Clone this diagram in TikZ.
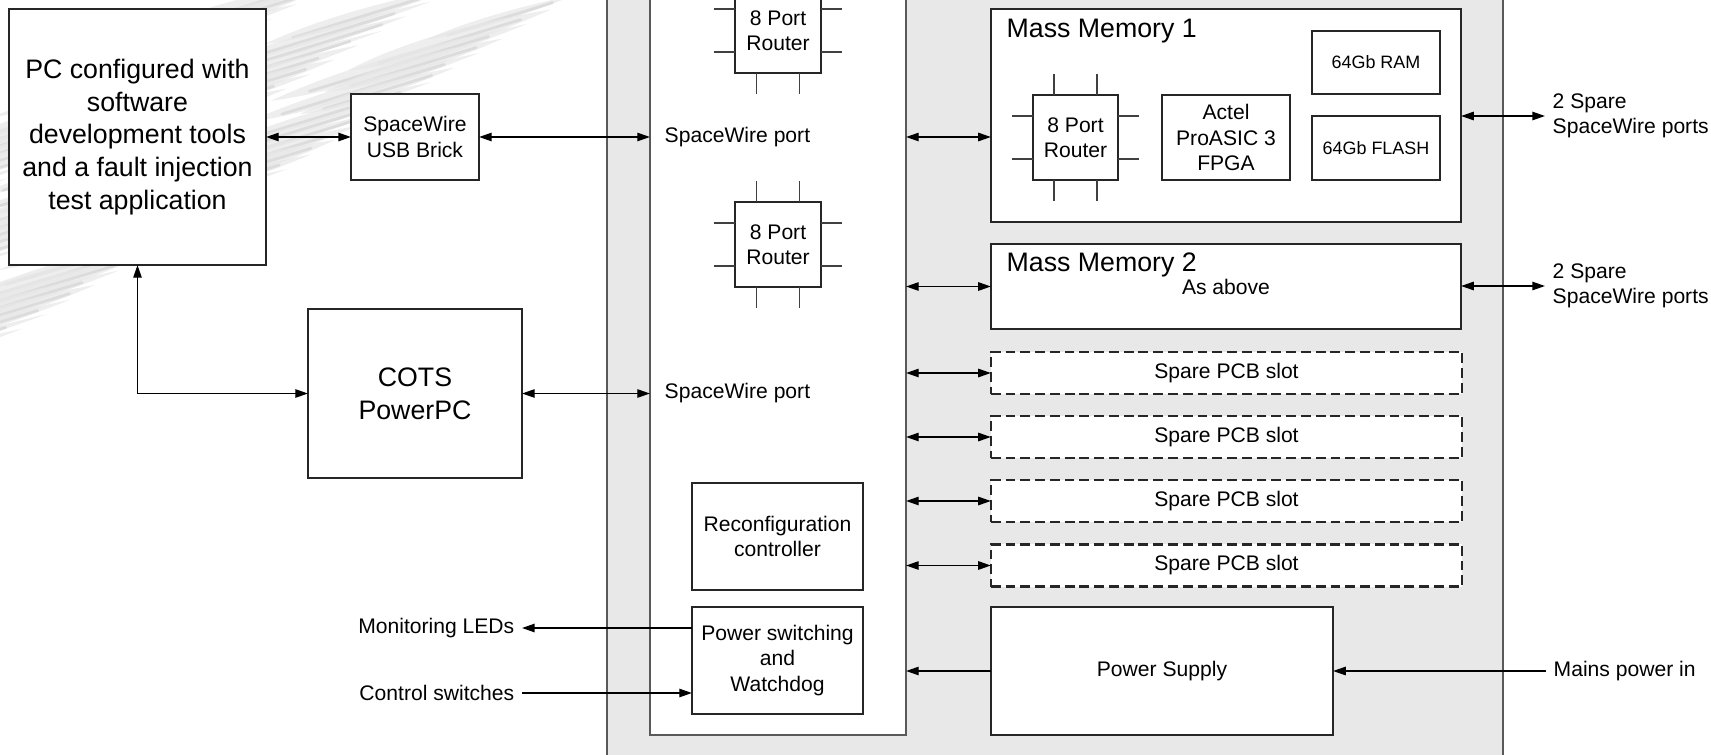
\documentclass[tikz,border=0pt]{standalone}
\usepackage{fontspec}
\setmainfont{Liberation Sans}
\usetikzlibrary{arrows.meta,positioning}

\tikzset{
  frame/.style={draw=black!65, line width=.6pt, inner sep=0pt, outer sep=0pt},
  box/.style={draw=black!85, fill=white, line width=.4pt, inner sep=0pt, outer sep=0pt,
    align=center, font=\fontsize{6}{7.2}\selectfont},
  bigbox/.style={box, font=\fontsize{7.6}{9.3}\selectfont},
  slotbox/.style={box, line width=.65pt, dash pattern=on 2.8pt off 1.4pt},
  lbl/.style={inner sep=2pt, align=left, font=\fontsize{6}{7.2}\selectfont},
  port/.style={draw=black!75, line width=.4pt},
  link/.style={line width=.4pt, {Triangle[length=3.6pt,width=2.4pt]}-{Triangle[length=3.6pt,width=2.4pt]}},
  feed/.style={line width=.4pt, -{Triangle[length=3.6pt,width=2.4pt]}},
  wisp/.style={black!9, opacity=.75},
  quill/.style={black!24, line width=.8pt, line cap=round, opacity=.4},
}

\begin{document}
\begin{tikzpicture}[x=0.01cm,y=-0.01cm]
\useasboundingbox (0,0) rectangle (1711,754);
\clip (0,0) rectangle (1711,754);

% feather wisps in the background, rows of tapered strokes
\foreach \row/\ox/\oy in {0/0/0,1/-120/-8,2/-230/-20} {
  \foreach \t in {0,...,24} {
    \pgfmathsetmacro\tx{575-\t*24+\ox}
    \pgfmathsetmacro\ty{-5+\t*14.5+\oy}
    \pgfmathsetmacro\fl{150+mod(\t*53+\row*41,130)}
    \pgfmathsetmacro\sx{\tx-\fl}
    \pgfmathsetmacro\sy{\ty+0.3*\fl}
    \pgfmathsetmacro\w{7+mod(\t*7+\row*3,8)}
    \fill[wisp] (\sx,\sy) .. controls (\sx+0.3*\fl,\sy-0.09*\fl-\w) and (\sx+0.7*\fl,\sy-0.21*\fl-0.6*\w) .. (\tx,\ty)
      .. controls (\sx+0.7*\fl,\sy-0.21*\fl+0.6*\w) and (\sx+0.3*\fl,\sy-0.09*\fl+\w) .. cycle;
    \draw[quill] (\sx+0.15*\fl,\sy-0.045*\fl+2) .. controls (\sx+0.5*\fl,\sy-0.15*\fl+2) .. (\tx-0.15*\fl,\ty+0.045*\fl+1);
  }
}

% rack and router board
\node[frame, fill=black!9, minimum width=8.96cm, minimum height=8cm] (rack) at (1055,377) {};
\node[frame, fill=white, minimum width=2.56cm, minimum height=7.55cm] (board) at (778,357.5) {};

% ground equipment
\node[bigbox, minimum width=2.57cm, minimum height=2.56cm] (pc) at (137.5,137)
  {PC configured with\\software\\development tools\\and a fault injection\\test application};
\node[box, minimum width=1.28cm, minimum height=.86cm] (usb) at (415,137) {SpaceWire\\USB Brick};
\node[bigbox, minimum width=2.14cm, minimum height=1.69cm] (ppc) at (415,393.5) {COTS\\PowerPC};

% router board contents
\node[box, minimum width=.86cm, minimum height=.85cm] (rtrA) at (778,30.5) {8 Port\\Router};
\node[box, minimum width=.86cm, minimum height=.85cm] (rtrB) at (778,244.5) {8 Port\\Router};
\node[lbl, anchor=west] (swpA) at (657,137) {SpaceWire port};
\node[lbl, anchor=west] (swpB) at (657,393) {SpaceWire port};
\node[box, minimum width=1.71cm, minimum height=1.07cm] (reconf) at (777.5,536.5) {Reconfiguration\\controller};
\node[box, minimum width=1.71cm, minimum height=1.07cm] (pwsw) at (777.5,660.5) {Power switching\\and\\Watchdog};

% mass memory 1
\node[box, minimum width=4.7cm, minimum height=2.13cm] (mm1) at (1226,115.5) {};
\node[anchor=west, inner sep=0pt, font=\fontsize{7.6}{9.3}\selectfont] (mmA) at (1006,31) {Mass Memory 1};
\node[box, minimum width=.85cm, minimum height=.85cm] (rtrC) at (1075.5,137.5) {8 Port\\Router};
\node[box, minimum width=1.28cm, minimum height=.85cm] (actel) at (1226,137.5) {Actel\\ProASIC 3\\FPGA};
\node[box, minimum width=1.28cm, minimum height=.63cm, font=\fontsize{5.1}{6}\selectfont] (ram) at (1376,62.5) {64Gb RAM};
\node[box, minimum width=1.28cm, minimum height=.64cm, font=\fontsize{5.1}{6}\selectfont] (flash) at (1376,148) {64Gb FLASH};

% mass memory 2
\node[box, minimum width=4.7cm, minimum height=.85cm] (mm2) at (1226,286.5) {};
\node[anchor=west, inner sep=0pt, font=\fontsize{7.6}{9.3}\selectfont] (mmB) at (1006,265) {Mass Memory 2};
\node[lbl] (asab) at (1226,287) {As above};

% router ports
\foreach \r in {rtrA,rtrB,rtrC} {
  \foreach \d in {-0.215cm,0.215cm} {
    \draw[port] ([xshift=\d]\r.north) -- ++(0,-21);
    \draw[port] ([xshift=\d]\r.south) -- ++(0,21);
    \draw[port] ([yshift=\d]\r.west) -- ++(-21,0);
    \draw[port] ([yshift=\d]\r.east) -- ++(21,0);
  }
}

% spare slots
\foreach \y [count=\i] in {373,437,501,565.5} {
  \node[slotbox, minimum width=4.71cm, minimum height=.42cm] (s\i) at (1226.5,\y) {Spare PCB slot};
  \draw[link] (s\i.west -| board.east) -- (s\i.west);
}

\node[box, minimum width=3.42cm, minimum height=1.28cm] (psu) at (1162,671) {Power Supply};

% outside labels
\node[lbl, anchor=west] (spA) at (1545,116) {2 Spare\\SpaceWire ports};
\node[lbl, anchor=west] (spB) at (1545,286) {2 Spare\\SpaceWire ports};
\node[lbl, anchor=west] (mains) at (1546,671) {Mains power in};
\node[lbl, anchor=east] (leds) at (522,628) {Monitoring LEDs};
\node[lbl, anchor=east] (ctrl) at (522,693) {Control switches};

% links
\draw[link] (pc.east) -- (usb.west);
\draw[link] (usb.east) -- (usb.east -| board.west);
\draw[link] (pc.south) |- (ppc.west);
\draw[link] (ppc.east) -- (ppc.east -| board.west);
\draw[link] (swpA -| board.east) -- (swpA -| mm1.west);
\draw[link] (mm2.west -| board.east) -- (mm2.west);
\draw[link] (spA.west -| mm1.east) -- (spA.west);
\draw[link] (spB.west -| mm2.east) -- (spB.west);
\draw[feed] (psu.west) -- (psu.west -| board.east);
\draw[feed] (mains.west) -- (mains.west -| psu.east);
\draw[feed] (leds.east -| pwsw.west) -- (leds.east);
\draw[feed] (ctrl.east) -- (ctrl.east -| pwsw.west);
\end{tikzpicture}
\end{document}
